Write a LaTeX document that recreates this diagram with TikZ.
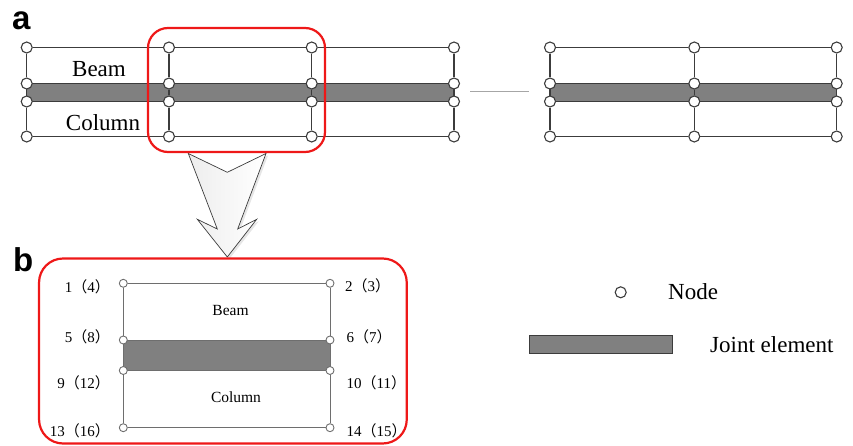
\documentclass[tikz,border=0pt]{standalone}
\usepackage{fontspec}
\setmainfont{Liberation Serif}
\newfontfamily\panelsans{Liberation Sans}
\newfontfamily\cjk{Noto Sans CJK SC}
\usetikzlibrary{shadows}
\pgfdeclarelayer{background}
\pgfsetlayers{background,main}
\definecolor{redline}{RGB}{238,24,24}
\definecolor{linedark}{RGB}{60,60,60}
\definecolor{lineb}{RGB}{110,110,110}
\definecolor{jointgray}{RGB}{128,128,128}
\newcommand{\flp}{{\cjk （}}
\newcommand{\frp}{{\cjk ）}}
\begin{document}
\begin{tikzpicture}[x=1pt,y=-1pt,
  nd/.style={circle,draw=linedark,fill=white,line width=1.1pt,inner sep=0pt,minimum size=11pt},
  ndb/.style={circle,draw=lineb,fill=white,line width=0.9pt,inner sep=0pt,minimum size=8pt},
  fr/.style={line width=1.4pt,draw=linedark},
  frb/.style={line width=1pt,draw=lineb},
  band/.style={fill=jointgray,draw=linedark,line width=1.2pt},
  bandb/.style={fill=jointgray,draw=lineb,line width=1pt},
  bigtxt/.style={font=\fontsize{23}{27}\selectfont,inner sep=0pt},
  smtxt/.style={font=\fontsize{15.5}{18}\selectfont,inner sep=0pt},
  lblL/.style={font=\fontsize{15}{18}\selectfont,inner sep=0pt,anchor=base east},
  lblR/.style={font=\fontsize{15}{18}\selectfont,inner sep=0pt,anchor=base west},
  panel/.style={font=\panelsans\bfseries\fontsize{33}{36}\selectfont,inner sep=0pt,anchor=base west},
  redbox/.style={draw=redline,line width=2.2pt,inner sep=0pt},
]
\useasboundingbox (0,0) rectangle (853,446);

% panel labels
\node[panel] (pa) at (12,30) {a};
\node[panel] (pb) at (13,271.7) {b};

% ---- panel a, left group ----
\foreach \i/\x in {1/26.7,2/169,3/311.7,4/454}
  \foreach \j/\y in {1/47.5,2/83.5,3/101.5,4/136.5}
    \node[nd] (a-\i-\j) at (\x,\y) {};
% ---- panel a, right group ----
\foreach \i/\x in {1/550,2/694.3,3/836.7}
  \foreach \j/\y in {1/47.5,2/83.5,3/101.5,4/136.5}
    \node[nd] (r-\i-\j) at (\x,\y) {};

\begin{pgfonlayer}{background}
  \draw[band] (a-1-2.center) rectangle (a-4-3.center);
  \draw[band] (r-1-2.center) rectangle (r-3-3.center);
  \foreach \i in {1,...,4}{
    \draw[fr] (a-\i-1) -- (a-\i-2);
    \draw[fr] (a-\i-2) -- (a-\i-3);
    \draw[fr] (a-\i-3) -- (a-\i-4);
  }
  \foreach \i in {1,...,3}{
    \draw[fr] (r-\i-1) -- (r-\i-2);
    \draw[fr] (r-\i-2) -- (r-\i-3);
    \draw[fr] (r-\i-3) -- (r-\i-4);
  }
  \foreach \i/\k in {1/2,2/3,3/4}{
    \draw[fr] (a-\i-1) -- (a-\k-1);
    \draw[fr] (a-\i-4) -- (a-\k-4);
  }
  \foreach \i/\k in {1/2,2/3}{
    \draw[fr] (r-\i-1) -- (r-\k-1);
    \draw[fr] (r-\i-4) -- (r-\k-4);
  }
\end{pgfonlayer}

\node[bigtxt] (beamA) at (99,69) {Beam};
\node[bigtxt] (colA) at (103,123) {Column};

\coordinate (gapL) at (470,91.7);
\coordinate (gapR) at (529,91.7);
\draw[gray!70,line width=1pt] (gapL) -- (gapR);

% ---- red boxes ----
\node[redbox,rounded corners=20pt,minimum width=177pt,minimum height=124pt] (boxa) at (236.5,90) {};
\node[redbox,rounded corners=24pt,minimum width=367.7pt,minimum height=185pt] (boxb) at (222.9,351) {};

% ---- block arrow ----
\begin{pgfonlayer}{background}
\draw[draw=linedark,line width=0.7pt,left color=gray!14,right color=white,
      drop shadow={opacity=0.2,shadow xshift=2pt,shadow yshift=-2pt}]
  (188.3,153.5) -- (227.3,172.3) -- (266,153.5) -- (237.7,229) -- (256.7,219.3)
  -- (227.3,257) -- (197.3,219.3) -- (217.3,229) -- cycle;
\end{pgfonlayer}

% ---- panel b ----
\foreach \j/\y in {1/283.3,2/340,3/370.5,4/427.7}{
  \node[ndb] (bl-\j) at (123.3,\y) {};
  \node[ndb] (br-\j) at (330,\y) {};
}
\begin{pgfonlayer}{background}
  \draw[bandb] (bl-2.center) rectangle (br-3.center);
  \draw[frb] (bl-1) -- (bl-2);
  \draw[frb] (bl-3) -- (bl-4);
  \draw[frb] (br-1) -- (br-2);
  \draw[frb] (br-3) -- (br-4);
  \draw[frb] (bl-1) -- (br-1);
  \draw[frb] (bl-4) -- (br-4);
\end{pgfonlayer}

\node[smtxt] (beamB) at (230.5,310.7) {Beam};
\node[smtxt] (colB) at (236,396.7) {Column};

\node[lblL] (l1) at (110,292) {1\flp 4\frp};
\node[lblL] (l5) at (110,342) {5\flp 8\frp};
\node[lblL] (l9) at (110,388) {9\flp 12\frp};
\node[lblL] (l13) at (110,436) {13\flp 16\frp};
\node[lblR] (l2) at (345,291.5) {2\flp 3\frp};
\node[lblR] (l6) at (346.5,342) {6\flp 7\frp};
\node[lblR] (l10) at (346.5,388) {10\flp 11\frp};
\node[lblR] (l14) at (346.5,436) {14\flp 15\frp};

% ---- legend ----
\node[nd] (legnode) at (620.7,292.3) {};
\node[bigtxt,anchor=west] (legnodetxt) at (668,292) {Node};
\node[draw=linedark,fill=jointgray,line width=1pt,inner sep=0pt,minimum width=143pt,minimum height=18pt] (legjoint) at (601,344.2) {};
\node[bigtxt,anchor=west] (legjointtxt) at (710,345) {Joint element};
\end{tikzpicture}
\end{document}
